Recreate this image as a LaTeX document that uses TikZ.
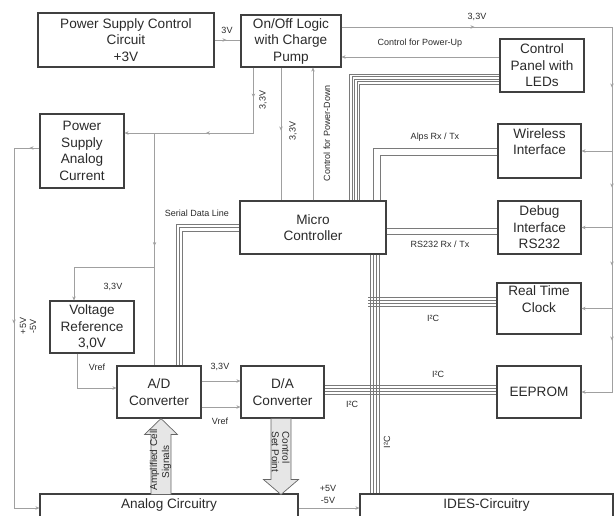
\documentclass[tikz,border=0pt]{standalone}
\usepackage{fontspec}
\setmainfont{Liberation Sans}
\usetikzlibrary{arrows.meta,decorations.markings,calc}
\definecolor{boxc}{HTML}{404040}
\definecolor{conc}{HTML}{A0A0A0}
\definecolor{busc}{HTML}{7A7A7A}
\definecolor{txtc}{HTML}{2A2A2A}
\definecolor{fatc}{HTML}{E6E6E6}
\begin{document}
\begin{tikzpicture}[x=1pt,y=-1pt,
 box/.style={draw=boxc,line width=1.1pt,align=center,inner sep=1pt,text=txtc,font=\fontsize{13.6}{16.5}\selectfont},
 boxtxt/.style={text=txtc,font=\fontsize{13.6}{16.5}\selectfont,inner sep=0pt},
 conn/.style={draw=conc,line width=0.8pt},
 bus/.style={draw=busc,line width=0.6pt},
 lbl/.style={text=txtc,font=\fontsize{9}{10}\selectfont,inner sep=0pt},
 fatlbl/.style={text=txtc,font=\fontsize{10}{10}\selectfont,inner sep=0pt},
 tip/.style={-{Stealth[length=4pt,width=3.5pt]}},
 marr/.style={postaction={decorate,decoration={markings,mark=at position #1 with {\arrow{Stealth[length=4pt,width=3.5pt]}}}}},
 fat/.style={fill=fatc,draw=boxc!80,line width=0.7pt},
]
\useasboundingbox (0,0) rectangle (614,515);
\clip (0,0) rectangle (614,515);

% boxes
\node[box,minimum width=176pt,minimum height=54pt] (psc) at (126,40) {Power Supply Control\\Circuit\\+3V};
\node[box,minimum width=100pt,minimum height=52pt] (onoff) at (291,41) {On/Off Logic\\with Charge\\Pump};
\node[box,minimum width=84pt,minimum height=53pt] (cpanel) at (542,65.5) {Control\\Panel with\\LEDs};
\node[box,minimum width=84pt,minimum height=74pt] (psac) at (82,151) {Power\\Supply\\Analog\\Current};
\node[box,minimum width=146pt,minimum height=53pt] (mc) at (313,227.5) {Micro\\Controller};
\node[box,minimum width=83pt,minimum height=54pt] (wifi) at (539.5,151) {Wireless\\Interface\\[2pt]};
\node[box,minimum width=83pt,minimum height=53pt] (debug) at (539.5,227.5) {Debug\\Interface\\RS232};
\node[box,minimum width=84pt,minimum height=51pt] (rtc) at (539,308.5) {Real Time\\Clock\\[2pt]};
\node[box,minimum width=84pt,minimum height=52pt] (eeprom) at (539,392) {EEPROM};
\node[box,minimum width=84pt,minimum height=52pt] (vref) at (92,327) {Voltage\\Reference\\3,0V};
\node[box,minimum width=84pt,minimum height=52pt] (adc) at (159,392) {A/D\\Converter};
\node[box,minimum width=83pt,minimum height=52pt] (dac) at (282.5,392) {D/A\\Converter};
\node[box,minimum width=258pt,minimum height=46pt] (analog) at (169,517) {};
\node[boxtxt] (analogtxt) at ([yshift=-11.5pt]analog.north) {Analog Circuitry};
\node[box,minimum width=253pt,minimum height=46pt] (ides) at (486.5,517) {};
\node[boxtxt] (idestxt) at ([yshift=-11.5pt]ides.north) {IDES-Circuitry};

% buses
\foreach \i in {0,...,4}
  \draw[bus] ([yshift={(-8.5-2.5*\i)*1pt}]cpanel.west) -| ([xshift={(110+2.5*\i)*1pt}]mc.north west);
\foreach \i in {0,1}
  \draw[bus] ([yshift={(3-7*\i)*1pt}]wifi.west) -| ([xshift={(134+7*\i)*1pt}]mc.north west);
\foreach \i in {0,1}
  \draw[bus] ([yshift={(-0.5-6*\i)*1pt}]mc.east) -- ([yshift={(-0.5-6*\i)*1pt}]debug.west);
\foreach \i in {0,1,2}
  \draw[bus] ([yshift={(3.5-3.5*\i)*1pt}]mc.west) -| ([xshift={(60+3*\i)*1pt}]adc.north west);
\foreach \i in {0,...,3}{
  \coordinate (bA) at ([xshift={(131+3*\i)*1pt}]mc.south west);
  \draw[bus] (bA) -- (bA |- ides.north);
  \draw[bus] ([yshift={(11.5-3*\i)*1pt}]rtc.west) -- ++(-128,0);
  \draw[bus] ([yshift={(7-3*\i)*1pt}]dac.east) -- ([yshift={(7-3*\i)*1pt}]eeprom.west);
}

% power connectors
\draw[conn,marr=12pt] (psc.east) -- (psc.east -| onoff.west);
\coordinate (rt) at (612,27);
\coordinate (rb) at (612,392);
\draw[conn,tip,marr=133pt,marr=331pt,marr=431pt,marr=509pt,marr=584pt]
  ([yshift=14pt]onoff.east) -- (rt) -- (rb) -- (eeprom.east);
\draw[conn,tip] (wifi.east -| rt) -- (wifi.east);
\draw[conn,tip] (debug.east -| rt) -- (debug.east);
\draw[conn,tip] (rtc.east -| rt) -- (rtc.east);

\coordinate (pu) at ([yshift=8.5pt]cpanel.west);
\draw[conn,tip] (pu) -- (pu -| onoff.east);

\coordinate (a254) at ([xshift=13pt]onoff.south west);
\coordinate (psin) at ([yshift=18pt]psac.east);
\draw[conn,tip,marr=30pt,marr=113pt] (a254) |- (psin);
\coordinate (j1) at ([xshift=30pt]psin);
\draw[conn,marr=113pt] (j1) -- (j1 |- adc.north);
\coordinate (j2) at ([yshift=-134pt]j1);
\draw[conn,tip] (j2) -| ([xshift=-18pt]vref.north);

\coordinate (a281) at ([xshift=-10pt]onoff.south);
\draw[conn,marr=63pt] (a281) -- (a281 |- mc.north);
\draw[conn,tip] (mc.north) -- (mc.north |- onoff.south);

\coordinate (vo) at ([xshift=-15pt]vref.south);
\coordinate (ai) at ([yshift=4pt]adc.west);
\draw[conn,tip] (vo) |- (ai);
\draw[conn,tip] ([yshift=11pt]adc.east) -- ([yshift=11pt]dac.west);
\draw[conn,tip] ([yshift=-15pt]adc.east) -- ([yshift=-15pt]dac.west);

\coordinate (po) at ([yshift=3pt]psac.west);
\coordinate (lft) at (14,0);
\coordinate (ain) at ([yshift=9pt]analog.west);
\draw[conn,tip,marr=10pt,marr=201pt] (po) -- (po -| lft) -- (lft |- ain) -- (ain);
\coordinate (ao) at ([yshift=9pt]analog.east);
\draw[conn,tip] (ao) -- (ao -| ides.west);

% fat arrows
\draw[fat] ([xshift=2pt]adc.south) -- ++(16.5,16) -- ++(-6.5,0) -- ++(0,60) -- ++(-20,0) -- ++(0,-60) -- ++(-6.5,0) -- cycle;
\node[fatlbl,rotate=90] (amp1) at (154.5,460) {Amplified Cell};
\node[fatlbl,rotate=90] (amp2) at (166.5,462) {Signals};
\draw[fat] ([xshift=-11.5pt]dac.south) -- ++(20,0) -- ++(0,61) -- ++(7.5,0) -- ++(-17.5,15) -- ++(-17.5,-15) -- ++(7.5,0) -- cycle;
\node[fatlbl,rotate=-90] (sp1) at (275.5,452) {Set Point};
\node[fatlbl,rotate=-90] (sp2) at (286,447.5) {Control};

% labels
\node[lbl] (l3v) at (227,30) {3V};
\node[lbl] (l33top) at (477,17) {3,3V};
\node[lbl] (lpu) at (420,43) {Control for Power-Up};
\node[lbl,rotate=90] (l33a) at (263,100) {3,3V};
\node[lbl,rotate=90] (l33b) at (293,131) {3,3V};
\node[lbl,rotate=90] (lpd) at (327,133) {Control for Power-Down};
\node[lbl] (lalps) at (435,137) {Alps Rx / Tx};
\node[lbl] (lrs) at (440,244) {RS232 Rx / Tx};
\node[lbl] (lsdl) at (197,213) {Serial Data Line};
\node[lbl] (l33c) at (113,287) {3,3V};
\node[lbl] (li2c1) at (433,318) {I²C};
\node[lbl] (li2c2) at (438,374) {I²C};
\node[lbl] (li2c3) at (352,404) {I²C};
\node[lbl,rotate=90] (li2c4) at (387,442) {I²C};
\node[lbl] (lvr1) at (97,367) {Vref};
\node[lbl] (l33d) at (220,367) {3,3V};
\node[lbl] (lvr2) at (220,421) {Vref};
\node[lbl] (lp5) at (328,488) {+5V};
\node[lbl] (lm5) at (328,500) {-5V};
\node[lbl,rotate=90] (lp5b) at (23,326) {+5V};
\node[lbl,rotate=90] (lm5b) at (33,326) {-5V};
\end{tikzpicture}
\end{document}
